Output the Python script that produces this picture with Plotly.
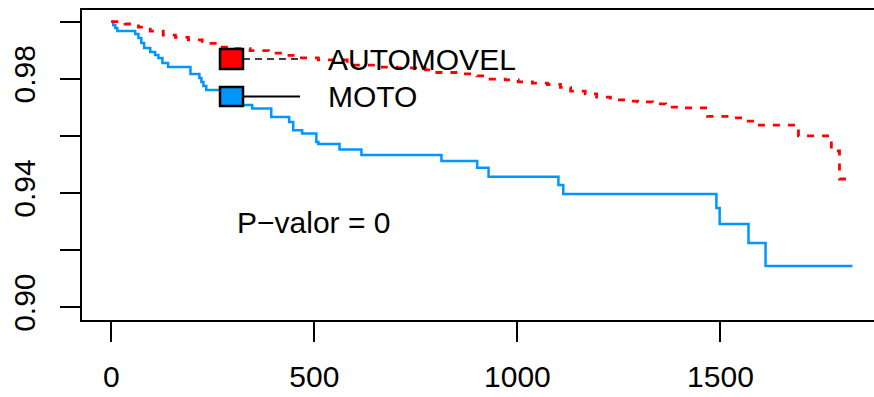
import plotly.graph_objects as go

# Kaplan-Meier survival estimates by vehicle type
moto_time = [0, 5, 10, 15, 59, 67, 74, 81, 96, 108, 116, 126, 140, 195, 217, 222,
             227, 234, 288, 318, 347, 394, 438, 448, 470, 505, 510, 562, 616, 813,
             901, 929, 1101, 1113, 1490, 1498, 1569, 1611, 1825]
moto_surv = [1.0, 0.9988, 0.9978, 0.9967, 0.9957, 0.9943, 0.9925, 0.9908, 0.9894,
             0.9883, 0.9873, 0.9855, 0.9841, 0.9817, 0.9803, 0.9789, 0.9775, 0.9761,
             0.9733, 0.9708, 0.9696, 0.9666, 0.9649, 0.9620, 0.9608, 0.9579, 0.9572,
             0.9552, 0.9533, 0.9512, 0.9488, 0.9457, 0.9428, 0.9396, 0.9347, 0.9291,
             0.9225, 0.9144, 0.9144]

auto_time = [0, 34, 67, 96, 128, 158, 190, 224, 256, 288, 342, 387, 421, 456, 510,
             581, 663, 704, 773, 796, 865, 901, 933, 970, 1002, 1037, 1074, 1106,
             1131, 1167, 1195, 1229, 1266, 1296, 1333, 1365, 1401, 1468, 1525, 1559,
             1591, 1692, 1773, 1793, 1820]
auto_surv = [1.0, 0.9992, 0.9981, 0.9967, 0.9953, 0.9945, 0.9936, 0.9924, 0.9911,
             0.9906, 0.9899, 0.9890, 0.9882, 0.9873, 0.9866, 0.9848, 0.9841, 0.9838,
             0.9831, 0.9822, 0.9817, 0.9810, 0.9799, 0.9796, 0.9789, 0.9785, 0.9780,
             0.9770, 0.9757, 0.9747, 0.9736, 0.9726, 0.9722, 0.9719, 0.9712, 0.9701,
             0.9698, 0.9668, 0.9663, 0.9652, 0.9638, 0.9600, 0.9547, 0.9449, 0.9449]

group_names = ["AUTOMOVEL", "MOTO"]
group_colors = ["#FF0000", "#0096FF"]

x_ticks = [0, 500, 1000, 1500]
y_ticks = [0.90, 0.92, 0.94, 0.96, 0.98, 1.00]
y_tick_text = ["0.90", "", "0.94", "", "0.98", ""]

pvalue_text = "P\u2212valor = 0"
pvalue_pos = (497, 0.9295)

FONT = "Liberation Sans, Arial, Helvetica, sans-serif"
W, H = 874, 397
ML, MR, MT, MB = 82, 0, 10, 77
PW, PH = W - ML - MR, H - MT - MB


def px(xp):
    return (xp - ML) / PW


def py(yp):
    return (H - MB - yp) / PH


fig = go.Figure()
fig.add_trace(go.Scatter(x=moto_time, y=moto_surv, mode="lines", line_shape="hv",
                         line=dict(color=group_colors[1], width=2.5), showlegend=False))
fig.add_trace(go.Scatter(x=auto_time, y=auto_surv, mode="lines", line_shape="hv",
                         line=dict(color=group_colors[0], width=2.8, dash="7px,8px"),
                         showlegend=False))

# legend keys: filled boxes followed by line samples
shapes = []
key_rows = [(49, 69, "7px,5px", 1.5), (87, 106, "solid", 2.2)]
for (top, bottom, dash, lw), col in zip(key_rows, group_colors):
    mid = (top + bottom) / 2
    shapes.append(dict(type="line", xref="paper", yref="paper",
                       x0=px(243), x1=px(300), y0=py(mid), y1=py(mid),
                       line=dict(color="black", width=lw, dash=dash)))
    shapes.append(dict(type="rect", xref="paper", yref="paper",
                       x0=px(220), x1=px(243), y0=py(bottom), y1=py(top),
                       fillcolor=col, line=dict(color="black", width=2.5)))

annotations = []
for (top, bottom, _, _), name in zip(key_rows, group_names):
    annotations.append(dict(text=name, xref="paper", yref="paper",
                            x=px(326), y=py((top + bottom) / 2), xanchor="left",
                            yanchor="middle", showarrow=False,
                            font=dict(family=FONT, size=30, color="black")))
annotations.append(dict(text=pvalue_text, x=pvalue_pos[0], y=pvalue_pos[1],
                        xref="x", yref="y", showarrow=False, xanchor="center",
                        yanchor="middle",
                        font=dict(family=FONT, size=30, color="black")))

fig.update_layout(
    width=W, height=H,
    margin=dict(l=ML, r=MR, t=MT, b=MB, pad=0, autoexpand=False),
    paper_bgcolor="white", plot_bgcolor="white",
    showlegend=False,
    font=dict(family=FONT, size=30, color="black"),
    shapes=shapes, annotations=annotations,
    xaxis=dict(range=[-72, 1878], tickvals=x_ticks, ticktext=[str(v) for v in x_ticks],
               ticks="outside", ticklen=20, tickwidth=2, tickcolor="black",
               showline=True, linecolor="black", linewidth=2, mirror=True,
               showgrid=False, zeroline=False, ticklabelstandoff=9, automargin=False,
               tickfont=dict(family=FONT, size=30, color="black")),
    yaxis=dict(range=[0.8955, 1.0041], tickvals=y_ticks, ticktext=y_tick_text,
               ticks="outside", ticklen=20, tickwidth=2, tickcolor="black",
               showline=True, linecolor="black", linewidth=2, mirror=False,
               showgrid=False, zeroline=False, tickangle=-90, ticklabelstandoff=13,
               automargin=False,
               tickfont=dict(family=FONT, size=30, color="black")),
)

fig.write_html("out.html")
